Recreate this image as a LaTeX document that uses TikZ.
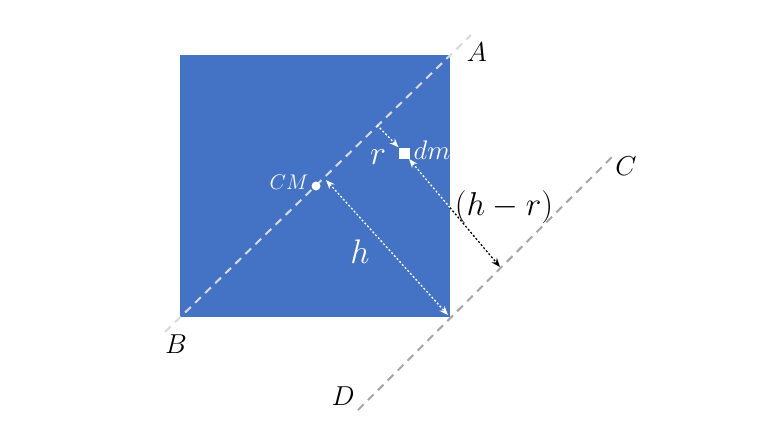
\documentclass[tikz,border=0pt]{standalone}
\usepackage{tikz}
\usetikzlibrary{arrows.meta,calc}
\definecolor{sqblue}{HTML}{4472C4}
\definecolor{lineGray}{HTML}{A6A6A6}
\definecolor{diagGray}{HTML}{DADADA}
\tikzset{
  axisline/.style={line width=2pt, dash pattern=on 8pt off 6pt},
  distarrow/.style={line width=1.3pt, dash pattern=on 2pt off 2pt, arrows={-Stealth[length=9pt,width=7pt]}},
  bigfont/.style={font=\fontsize{24.88}{25}\selectfont},
  ptlabel/.style={inner sep=0pt, bigfont, scale=1.1},
  bodylabel/.style={inner sep=0pt, text=white, bigfont},
}
\begin{document}
\begin{tikzpicture}[x=1pt,y=-1pt]
\useasboundingbox (0,0) rectangle (768,432);

% square body
\fill[sqblue] (180,55) rectangle (450,317);

% axes AB and CD
\coordinate (axA) at (471,35);
\coordinate (axB) at (165,332);
\coordinate (axC) at (613,156);
\coordinate (axD) at (358,410);
\draw[axisline, diagGray] (axB) -- (axA);
\draw[axisline, lineGray] (axD) -- (axC);

% points
\node[circle, fill=white, inner sep=0pt, minimum size=9pt] (cmdot) at (316,186) {};
\node[rectangle, fill=white, inner sep=0pt, minimum size=11pt] (dmsq) at (404,153) {};

% distances
\coordinate (hStart) at (326,180);
\coordinate (corner) at (448,315);
\coordinate (rFoot) at (377,125);
\coordinate (hrStart) at (409,159);
\coordinate (hrEnd) at (500,267);
\coordinate (hrEdge) at ($(hrStart)!0.45!(hrEnd)$);
\draw[distarrow, white, {Stealth[length=9pt,width=7pt]}-{Stealth[length=9pt,width=7pt]}] (hStart) -- (corner);
\draw[distarrow, white] (rFoot) -- (dmsq);
\draw[distarrow, white, {Stealth[length=9pt,width=7pt]}-] (hrStart) -- (hrEdge);
\draw[distarrow, black] (hrEdge) -- (hrEnd);

% labels
\node[ptlabel] (labA) at (477,52) {$A$};
\node[ptlabel] (labB) at (176,344) {$B$};
\node[ptlabel] (labC) at (626,166) {$C$};
\node[ptlabel] (labD) at (343,396) {$D$};
\node[bodylabel, scale=0.85] (labCM) at (289,182) {$CM$};
\node[bodylabel, scale=1.08] (labdm) at (432,150) {$dm$};
\node[bodylabel, scale=1.37] (labr) at (378,157) {$r$};
\node[bodylabel, scale=1.37] (labh) at (360,252) {$h$};
\node[inner sep=0pt, bigfont, scale=1.33] (labhr) at (504,207) {$(h-r)$};
\end{tikzpicture}
\end{document}
